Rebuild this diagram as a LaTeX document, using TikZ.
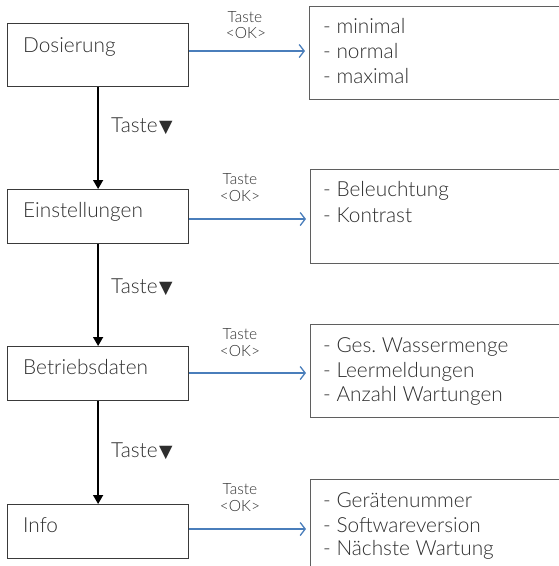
\documentclass[tikz,border=0pt]{standalone}
\usepackage{fontspec}
\setmainfont{Lato Light}
\newfontfamily\symfont{DejaVu Sans}
\usetikzlibrary{arrows.meta}
\definecolor{txt}{HTML}{2E2E2E}
\definecolor{lbox}{HTML}{3A3A3A}
\definecolor{rbox}{HTML}{5F5F5F}
\definecolor{okblue}{HTML}{4A7EBB}
\frenchspacing
\tikzset{
  menubox/.style={draw=lbox, line width=1.2pt, anchor=north west, inner sep=0pt},
  listbox/.style={draw=rbox, line width=1.4pt, anchor=north west, inner sep=0pt},
  maintxt/.style={anchor=base west, inner sep=0pt, text=txt, font=\fontsize{20.8}{23}\selectfont},
  smalltxt/.style={anchor=base, inner sep=0pt, text=txt, font=\fontsize{15.5}{17}\selectfont},
  downarrow/.style={draw=black, line width=1.4pt, -{Triangle[length=9pt,width=10pt]}},
  okarrow/.style={draw=okblue, line width=1.3pt, -{Straight Barb[length=5pt,width=13pt,line width=1.3pt]}, shorten >=4pt},
}
\newcommand{\tri}{\kern1.5pt{\symfont\fontsize{17.5}{17.5}\selectfont ▼}}
\begin{document}
\begin{tikzpicture}[x=1pt,y=-1pt]
\useasboundingbox (0,0) rectangle (559,566);
% left menu boxes
\node[menubox, minimum width=181pt, minimum height=63pt] (b1) at (7,23) {};
\node[menubox, minimum width=181pt, minimum height=54pt] (b2) at (7,189) {};
\node[menubox, minimum width=181pt, minimum height=54pt] (b3) at (7,346) {};
\node[menubox, minimum width=181pt, minimum height=54pt] (b4) at (7,504) {};
\node[maintxt] (t1) at (23,52) {Dosierung};
\node[maintxt] (t2) at (23,217) {Einstellungen};
\node[maintxt] (t3) at (23,374) {Betriebsdaten};
\node[maintxt] (t4) at (23,532) {Info};
% right list boxes
\node[listbox, minimum width=260pt, minimum height=93pt] (r1) at (309,6) {};
\node[listbox, minimum width=260pt, minimum height=94pt] (r2) at (310,169) {};
\node[listbox, minimum width=260pt, minimum height=93pt] (r3) at (310,324) {};
\node[listbox, minimum width=260pt, minimum height=100pt] (r4) at (310,479) {};
\node[maintxt] (l11) at (323,33) {- minimal};
\node[maintxt] (l12) at (323,58) {- normal};
\node[maintxt] (l13) at (323,83) {- maximal};
\node[maintxt] (l21) at (323,196) {- Beleuchtung};
\node[maintxt] (l22) at (323,222) {- Kontrast};
\node[maintxt] (l31) at (323,352) {- Ges. Wassermenge};
\node[maintxt] (l32) at (323,377) {- Leermeldungen};
\node[maintxt] (l33) at (323,401) {- Anzahl Wartungen};
\node[maintxt] (l41) at (323,507) {- Gerätenummer};
\node[maintxt] (l42) at (323,532) {- Softwareversion};
\node[maintxt] (l43) at (323,555) {- Nächste Wartung};
% down arrows
\draw[downarrow] (b1.south) -- (b2.north);
\draw[downarrow] (b2.south) -- (b3.north);
\draw[downarrow] (b3.south) -- (b4.north);
\node[maintxt] (d1) at (111,132) {Taste\tri};
\node[maintxt] (d2) at (111,293) {Taste\tri};
\node[maintxt] (d3) at (111,457) {Taste\tri};
% OK arrows
\draw[okarrow] (b1.east |- 0,51) -- (r1.west |- 0,51);
\draw[okarrow] (b2.east |- 0,219) -- (r2.west |- 0,219);
\draw[okarrow] (b3.east |- 0,373) -- (r3.west |- 0,373);
\draw[okarrow] (b4.east |- 0,529) -- (r4.west |- 0,529);
\node[smalltxt] (k1a) at (245,22) {Taste};
\node[smalltxt] (k1b) at (246,38) {<OK>};
\node[smalltxt] (k2a) at (240,184) {Taste};
\node[smalltxt] (k2b) at (240,201) {<OK>};
\node[smalltxt] (k3a) at (240,339) {Taste};
\node[smalltxt] (k3b) at (240,356) {<OK>};
\node[smalltxt] (k4a) at (240,494) {Taste};
\node[smalltxt] (k4b) at (240,511) {<OK>};
\end{tikzpicture}
\end{document}
